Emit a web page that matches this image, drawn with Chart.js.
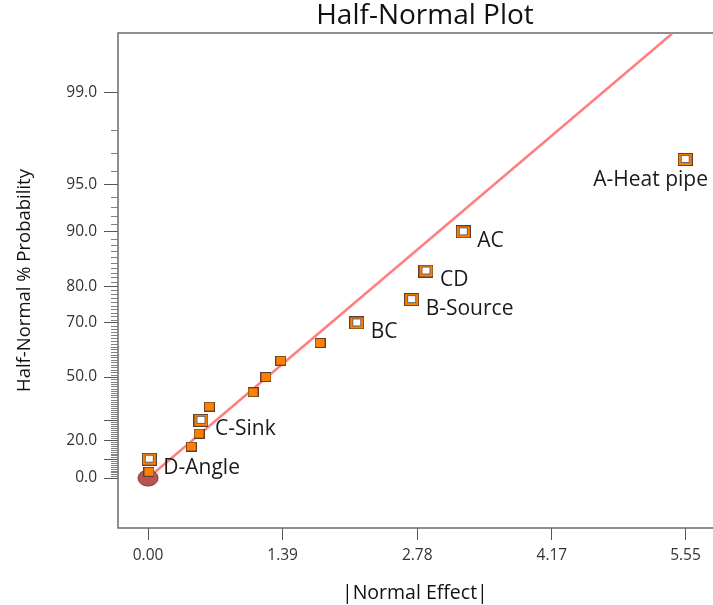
<!DOCTYPE html>
<html>
<head>
<meta charset="utf-8">
<title>Half-Normal Plot</title>
<script src="https://cdn.jsdelivr.net/npm/chart.js@4.4.1/dist/chart.umd.min.js"></script>
<style>
  html, body { margin: 0; padding: 0; background: #fff; overflow: hidden; }
  #wrap { width: 745px; height: 605px; }
</style>
</head>
<body>
<div id="wrap"><canvas id="chart" width="745" height="605"></canvas></div>
<script>
// effects sorted by size, |normal effect| and half-normal % probability
const effectNames  = ["", "D-Angle", "", "", "C-Sink", "", "", "", "", "", "BC", "B-Source", "CD", "AC", "A-Heat pipe"];
const effectValues = [0.010, 0.013, 0.447, 0.527, 0.547, 0.633, 1.084, 1.218, 1.370, 1.776, 2.155, 2.722, 2.870, 3.255, 5.547];
const probValues   = [3.33, 10, 16.67, 23.33, 30, 36.67, 43.33, 50, 56.67, 63.33, 70, 76.67, 83.33, 90, 96.67];

// error estimate marker at the origin
const errorEffect = [0];
const errorProb = [0];

// fitted line through the small effects
const fitLineEffect = [0, 5.41];
const fitLineProb = [0, 99.7];

// axis ticks
const xTickValues = [0, 1.39, 2.78, 4.17, 5.55];
const yTickValues = [0, 10, 20, 30, 50, 70, 80, 90, 95, 99];
const yTickLabels = [0, 20, 50, 70, 80, 90, 95, 99];

// inverse normal cdf (Acklam)
function normInv(p) {
    const a = [-3.969683028665376e+01, 2.209460984245205e+02, -2.759285104469687e+02, 1.383577518672690e+02, -3.066479806614716e+01, 2.506628277459239e+00];
    const b = [-5.447609879822406e+01, 1.615858368580409e+02, -1.556989798598866e+02, 6.680131188771972e+01, -1.328068155288572e+01];
    const c = [-7.784894002430293e-03, -3.223964580411365e-01, -2.400758277161838e+00, -2.549732539343734e+00, 4.374664141464968e+00, 2.938163982698783e+00];
    const d = [7.784695709041462e-03, 3.224671290700398e-01, 2.445134137142996e+00, 3.754408661907416e+00];
    const pl = 0.02425, ph = 1 - pl;
    let q, r;
    if (p < pl) {
        q = Math.sqrt(-2 * Math.log(p));
        return (((((c[0]*q+c[1])*q+c[2])*q+c[3])*q+c[4])*q+c[5]) / ((((d[0]*q+d[1])*q+d[2])*q+d[3])*q+1);
    }
    if (p <= ph) {
        q = p - 0.5; r = q * q;
        return (((((a[0]*r+a[1])*r+a[2])*r+a[3])*r+a[4])*r+a[5])*q / (((((b[0]*r+b[1])*r+b[2])*r+b[3])*r+b[4])*r+1);
    }
    q = Math.sqrt(-2 * Math.log(1 - p));
    return -(((((c[0]*q+c[1])*q+c[2])*q+c[3])*q+c[4])*q+c[5]) / ((((d[0]*q+d[1])*q+d[2])*q+d[3])*q+1);
}
function halfNormalZ(pct) { return normInv(0.5 + pct / 200); }

// half-normal probability axis
class HalfNormalScale extends Chart.Scale {
    determineDataLimits() {
        this.min = 0;
        this.max = 100;
    }
    buildTicks() {
        return yTickValues.map(v => ({ value: v }));
    }
    getPixelForValue(v) {
        const zMin = this.options.zMin, zMax = this.options.zMax;
        return this.getPixelForDecimal((halfNormalZ(v) - zMin) / (zMax - zMin));
    }
    getPixelForTick(i) {
        const t = this.ticks;
        return (i < 0 || i >= t.length) ? NaN : this.getPixelForValue(t[i].value);
    }
    getValueForPixel(px) {
        const zMin = this.options.zMin, zMax = this.options.zMax;
        return zMin + this.getDecimalForPixel(px) * (zMax - zMin);
    }
    getLabelForValue(v) { return v.toFixed(1); }
}
HalfNormalScale.id = 'halfNormal';
HalfNormalScale.defaults = {};
Chart.register(HalfNormalScale);

// marker images
function makeMarker(w, h, draw) {
    const c = document.createElement('canvas');
    c.width = w; c.height = h;
    draw(c.getContext('2d'));
    return c;
}
const filledSquare = makeMarker(11, 10, g => {
    g.fillStyle = '#ff8000';
    g.fillRect(0.5, 0.5, 10, 9);
    g.strokeStyle = '#5a4030';
    g.lineWidth = 1;
    g.strokeRect(0.5, 0.5, 10, 9);
});
const hollowSquare = makeMarker(15, 13, g => {
    g.fillStyle = '#ff8000';
    g.fillRect(0.5, 0.5, 14, 12);
    g.strokeStyle = '#5a4030';
    g.lineWidth = 1;
    g.strokeRect(0.5, 0.5, 14, 12);
    g.fillStyle = '#ffffff';
    g.fillRect(3.5, 2.5, 8, 7);
    g.strokeStyle = '#666';
    g.strokeRect(3.5, 2.5, 8, 7);
});
const errorEllipse = makeMarker(22, 18, g => {
    g.beginPath();
    g.ellipse(11, 9, 10, 8, 0, 0, Math.PI * 2);
    g.fillStyle = '#b65550';
    g.fill();
    g.strokeStyle = '#7a3535';
    g.lineWidth = 1;
    g.stroke();
});

const labelledPoints = [];
const plainPoints = [];
effectValues.forEach((x, i) => {
    if (effectNames[i]) labelledPoints.push({ x: x, y: probValues[i], name: effectNames[i] });
    else plainPoints.push({ x: x, y: probValues[i] });
});

// frame (top, left, bottom) and minor ticks on the probability axis
const framePlugin = {
    id: 'frame',
    beforeDatasetsDraw(chart) {
        const { ctx, chartArea: a } = chart;
        ctx.save();
        ctx.strokeStyle = '#6a6a6a';
        ctx.lineWidth = 1.5;
        ctx.beginPath();
        ctx.moveTo(a.right, a.top);
        ctx.lineTo(a.left, a.top);
        ctx.lineTo(a.left, a.bottom);
        ctx.lineTo(a.right, a.bottom);
        ctx.stroke();

        const y = chart.scales.y;
        ctx.strokeStyle = '#808080';
        ctx.lineWidth = 1;
        ctx.beginPath();
        for (let p = 1; p < 99; p++) {
            if (yTickValues.includes(p)) continue;
            const py = Math.round(y.getPixelForValue(p)) + 0.5;
            ctx.moveTo(a.left - 7, py);
            ctx.lineTo(a.left, py);
        }
        ctx.stroke();
        ctx.restore();
    }
};

const labelPlugin = {
    id: 'effectLabels',
    afterDatasetsDraw(chart) {
        const { ctx, chartArea: a } = chart;
        const meta = chart.getDatasetMeta(0);
        ctx.save();
        ctx.font = "21px 'Open Sans', sans-serif";
        ctx.fillStyle = '#1a1a1a';
        ctx.textBaseline = 'middle';
        ctx.textAlign = 'left';
        meta.data.forEach((el, i) => {
            const name = labelledPoints[i].name;
            const w = ctx.measureText(name).width;
            let tx = el.x + 14, ty = el.y + 9;
            if (tx + w > a.right) { tx = el.x - 92; ty = el.y + 21; }
            ctx.fillText(name, tx, ty);
        });
        ctx.restore();
    }
};

Chart.defaults.font.family = "'Open Sans', sans-serif";
Chart.defaults.color = '#333';

const ctx = document.getElementById('chart');
const chart = new Chart(ctx, {
    type: 'scatter',
    data: {
        datasets: [
            {
                label: 'Named effects',
                data: labelledPoints,
                pointStyle: hollowSquare,
                order: 0
            },
            {
                label: 'Other effects',
                data: plainPoints,
                pointStyle: filledSquare,
                order: 1
            },
            {
                label: 'Error',
                data: errorEffect.map((x, i) => ({ x: x, y: errorProb[i] })),
                pointStyle: errorEllipse,
                order: 2
            },
            {
                type: 'line',
                label: 'Fit',
                data: fitLineEffect.map((x, i) => ({ x: x, y: fitLineProb[i] })),
                borderColor: '#ff7f7f',
                borderWidth: 2.5,
                pointRadius: 0,
                fill: false,
                order: 3
            }
        ]
    },
    options: {
        responsive: false,
        animation: false,
        devicePixelRatio: 1,
        layout: { padding: { left: 0, right: 13, top: 0, bottom: 0 } },
        plugins: {
            legend: { display: false },
            tooltip: { enabled: false },
            title: {
                display: true,
                text: 'Half-Normal Plot',
                fullSize: false,
                color: '#111',
                font: { size: 28, weight: 'normal', lineHeight: 1.18 },
                padding: { top: 0, bottom: 0 }
            }
        },
        scales: {
            x: {
                type: 'linear',
                min: -0.31,
                max: 6.03,
                afterFit(s) { s.height = 77; },
                afterBuildTicks(s) { s.ticks = xTickValues.map(v => ({ value: v })); },
                border: { display: false },
                grid: { drawOnChartArea: false, drawTicks: true, tickLength: 12, color: '#555', lineWidth: 1 },
                ticks: {
                    autoSkip: false,
                    maxRotation: 0,
                    padding: 6,
                    color: '#333',
                    font: { size: 15.5 },
                    callback: v => v.toFixed(2)
                },
                title: {
                    display: true,
                    text: '|Normal Effect|    ',
                    color: '#111',
                    font: { size: 19.5 },
                    padding: { top: 0, bottom: 0 }
                }
            },
            y: {
                type: 'halfNormal',
                zMin: -0.334,
                zMax: 2.973,
                afterFit(s) { s.width = 118; },
                border: { display: false },
                grid: { drawOnChartArea: false, drawTicks: true, tickLength: 14, color: '#555', lineWidth: 1 },
                ticks: {
                    autoSkip: false,
                    padding: 7,
                    color: '#333',
                    font: { size: 15.5 },
                    callback: v => yTickLabels.includes(v) ? v.toFixed(1) : ''
                },
                title: {
                    display: true,
                    text: 'Half-Normal % Probability',
                    color: '#111',
                    font: { size: 18.5 },
                    padding: { top: 14, bottom: 0 }
                }
            }
        }
    },
    plugins: [framePlugin, labelPlugin]
});
</script>
</body>
</html>
